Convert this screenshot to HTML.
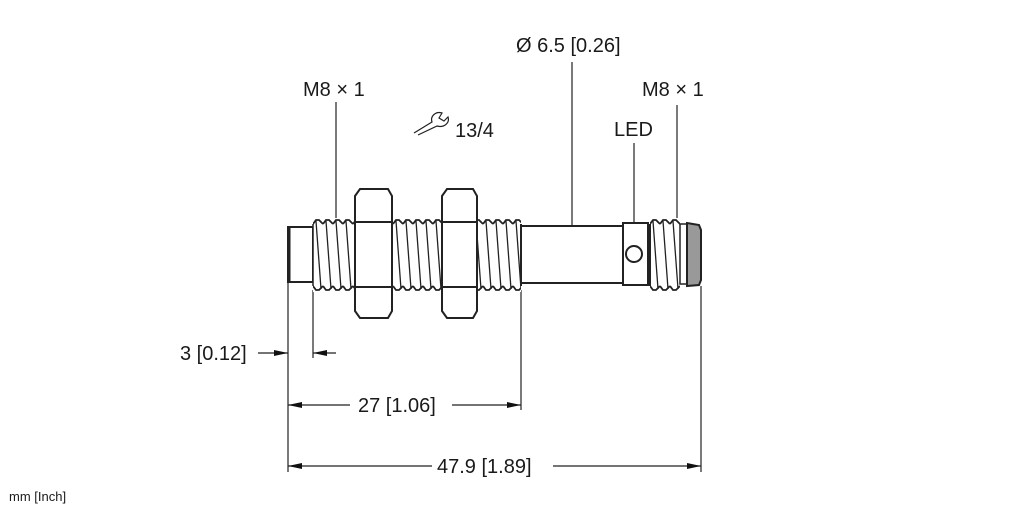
<!DOCTYPE html>
<html><head><meta charset="utf-8"><style>
html,body{margin:0;padding:0;background:#fff;}
svg{display:block;}
text{font-family:"Liberation Sans",sans-serif;font-size:20px;fill:#1a1a1a;}
</style></head><body>
<svg width="1022" height="511" viewBox="0 0 1022 511" xmlns="http://www.w3.org/2000/svg">
<defs>
<pattern id="thr" patternUnits="userSpaceOnUse" x="313" y="218" width="10" height="74">
<rect width="10" height="74" fill="#fff"/>
<path d="M0,6 L3,2 L6,2 L10,6" fill="none" stroke="#222" stroke-width="1.8"/>
<path d="M0,68 L3,72 L6,72 L10,68" fill="none" stroke="#222" stroke-width="1.8"/>
<line x1="3" y1="3" x2="8" y2="71" stroke="#222" stroke-width="1.3"/>
</pattern>
<pattern id="thr2" patternUnits="userSpaceOnUse" x="650" y="218" width="10" height="74">
<rect width="10" height="74" fill="#fff"/>
<path d="M0,6 L3,2 L6,2 L10,6" fill="none" stroke="#222" stroke-width="1.8"/>
<path d="M0,68 L3,72 L6,72 L10,68" fill="none" stroke="#222" stroke-width="1.8"/>
<line x1="3" y1="3" x2="8" y2="71" stroke="#222" stroke-width="1.3"/>
</pattern>
<marker id="ar" markerWidth="14" markerHeight="6" refX="14" refY="3" orient="auto" markerUnits="userSpaceOnUse">
<path d="M0,0 L14,3 L0,6 Z" fill="#111"/>
</marker>
</defs>
<g stroke="#222" stroke-width="1.2" fill="none">
<line x1="336" y1="102" x2="336" y2="221"/>
<line x1="572" y1="62" x2="572" y2="226"/>
<line x1="634" y1="143" x2="634" y2="246"/>
<line x1="677" y1="105" x2="677" y2="221"/>
<line x1="288" y1="283" x2="288" y2="472"/>
<line x1="313" y1="290" x2="313" y2="358"/>
<line x1="521" y1="290" x2="521" y2="410"/>
<line x1="701" y1="286" x2="701" y2="472"/>
</g>
<rect x="288" y="227" width="25" height="55" fill="#fff" stroke="#222" stroke-width="2"/>
<line x1="289" y1="228" x2="289" y2="281" stroke="#222" stroke-width="3"/>
<rect x="313" y="218" width="208" height="74" fill="url(#thr)"/>
<line x1="313" y1="224" x2="313" y2="286" stroke="#222" stroke-width="1.5"/>
<line x1="521" y1="224" x2="521" y2="286" stroke="#222" stroke-width="2"/>
<g fill="#fff" stroke="#222" stroke-width="2">
<path d="M360,189 L388,189 L392,196 L392,311 L388,318 L360,318 L355,311 L355,196 Z"/>
<line x1="355" y1="222" x2="392" y2="222"/>
<line x1="355" y1="287" x2="392" y2="287"/>
<path d="M447,189 L473,189 L477,196 L477,311 L473,318 L447,318 L442,311 L442,196 Z"/>
<line x1="442" y1="222" x2="477" y2="222"/>
<line x1="442" y1="287" x2="477" y2="287"/>
</g>
<rect x="521" y="226" width="102" height="57" fill="#fff" stroke="#222" stroke-width="2"/>
<rect x="623" y="223" width="25" height="62" fill="#fff" stroke="#222" stroke-width="2"/>
<circle cx="634" cy="254" r="8" fill="#fff" stroke="#222" stroke-width="2"/>
<rect x="650" y="218" width="30" height="74" fill="url(#thr2)"/>
<line x1="650" y1="224" x2="650" y2="286" stroke="#222" stroke-width="2"/>
<rect x="680" y="224" width="7" height="60" fill="#fff" stroke="#222" stroke-width="1.5"/>
<path d="M687,223 L699,225 L701,230 L701,280 L699,285 L687,286 Z" fill="#999" stroke="#222" stroke-width="2"/>
<g stroke="#222" stroke-width="1.2">
<line x1="258" y1="353" x2="288" y2="353" marker-end="url(#ar)"/>
<line x1="336" y1="353" x2="313" y2="353" marker-end="url(#ar)"/>
<line x1="350" y1="405" x2="288" y2="405" marker-end="url(#ar)"/>
<line x1="452" y1="405" x2="521" y2="405" marker-end="url(#ar)"/>
<line x1="432" y1="466" x2="288" y2="466" marker-end="url(#ar)"/>
<line x1="553" y1="466" x2="701" y2="466" marker-end="url(#ar)"/>
</g>
<path d="M414,133 L432,122 C430,116 436,111 442,113 L439,118 L444,121 L448,117 C450,123 444,128 437,126 L418,135" fill="none" stroke="#222" stroke-width="1.2"/>
<text x="303" y="96">M8 × 1</text>
<text x="516" y="52">Ø 6.5 [0.26]</text>
<text x="642" y="96">M8 × 1</text>
<text x="614" y="136">LED</text>
<text x="455" y="137">13/4</text>
<text x="180" y="360">3 [0.12]</text>
<text x="358" y="412">27 [1.06]</text>
<text x="437" y="473">47.9 [1.89]</text>
<text x="9" y="501" style="font-size:13px">mm [Inch]</text>
</svg>
</body></html>
